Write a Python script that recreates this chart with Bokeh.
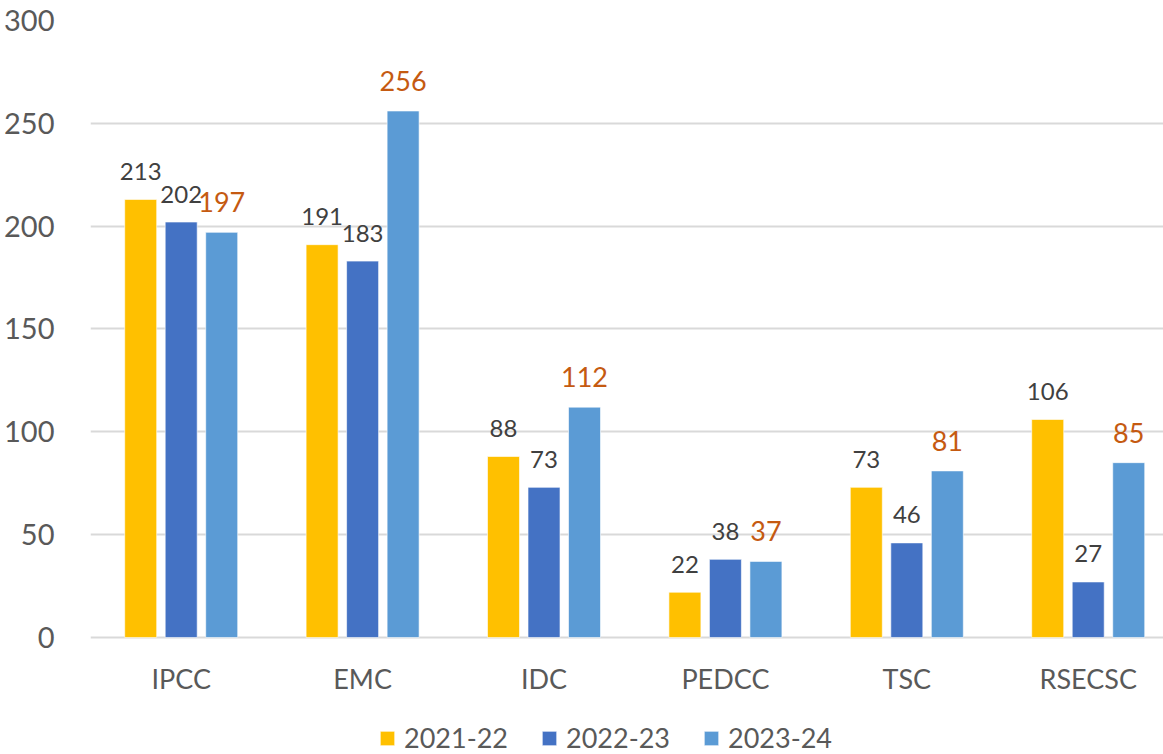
import numpy as np
from bokeh.plotting import figure
from bokeh.models import Range1d, FixedTicker, ColumnDataSource, Legend, LegendItem
from bokeh.core.properties import value
from bokeh.embed import file_html
from bokeh.resources import INLINE

categories = ["IPCC", "EMC", "IDC", "PEDCC", "TSC", "RSECSC"]
series_names = ["2021-22", "2022-23", "2023-24"]
v2021 = [213, 191, 88, 22, 73, 106]
v2022 = [202, 183, 73, 38, 46, 27]
v2023 = [197, 256, 112, 37, 81, 85]
y_ticks = [0, 50, 100, 150, 200, 250, 300]

colors = ["#FFC000", "#4472C4", "#5B9BD5"]
FONT = "Lato"

# frame spans the full height below the top border; the region under 0 holds
# the category labels and the legend (annotations are clipped to the frame)
p = figure(width=1163, height=754, output_backend="svg", toolbar_location=None,
           x_range=Range1d(0, 5.915), y_range=Range1d(-56.9, 300),
           min_border_left=90, min_border_right=0, min_border_top=20, min_border_bottom=0)
p.outline_line_color = None
p.background_fill_color = "white"
p.border_fill_color = "white"

xs = np.arange(len(categories)) + 0.5
step = 0.2233
bw = 0.1764
offsets = [-step, 0.0, step]
all_vals = [v2021, v2022, v2023]

renderers = []
for i, (vals, col) in enumerate(zip(all_vals, colors)):
    src = ColumnDataSource(dict(x=xs + offsets[i], top=vals, lab=[str(v) for v in vals]))
    r = p.vbar(x="x", top="top", bottom=0, width=bw, source=src,
               fill_color=col, line_color="white", line_width=1, line_alpha=0.6)
    renderers.append(r)
    if i < 2:
        p.text(x="x", y="top", text="lab", source=src, text_align="center",
               text_baseline="alphabetic", y_offset=-28,
               text_font=value(FONT), text_font_size="24px", text_color="#404040")
    else:
        p.text(x="x", y="top", text="lab", source=src, text_align="center",
               text_baseline="alphabetic", y_offset=-30,
               text_font=value(FONT), text_font_size="27px", text_color="#C55A11")

# category labels, placed under the zero line through the x scale
cat_src = ColumnDataSource(dict(x=xs, y=[0] * len(categories), lab=categories))
p.text(x="x", y="y", text="lab", source=cat_src, text_align="center",
       text_baseline="middle", y_offset=41,
       text_font=value(FONT), text_font_size="27px", text_color="#595959")

# axes
p.yaxis.ticker = FixedTicker(ticks=y_ticks)
p.yaxis.axis_line_color = None
p.yaxis.major_tick_line_color = None
p.yaxis.minor_tick_line_color = None
p.yaxis.major_label_standoff = 30
p.yaxis.major_label_text_font = FONT
p.yaxis.major_label_text_font_size = "29px"
p.yaxis.major_label_text_color = "#595959"

p.xaxis.visible = False

p.xgrid.grid_line_color = None
p.ygrid.ticker = FixedTicker(ticks=y_ticks)
p.ygrid.grid_line_color = "#D9D9D9"
p.ygrid.grid_line_width = 2

legend = Legend(items=[LegendItem(label=n, renderers=[r]) for n, r in zip(series_names, renderers)],
                orientation="horizontal", location=(288, 0),
                glyph_width=18, glyph_height=18, label_standoff=8, spacing=32,
                padding=0, margin=0, border_line_color=None, background_fill_alpha=0,
                label_text_font=FONT, label_text_font_size="27px", label_text_color="#595959")
p.add_layout(legend, "center")

open("out.html", "w").write(file_html(p, INLINE))
